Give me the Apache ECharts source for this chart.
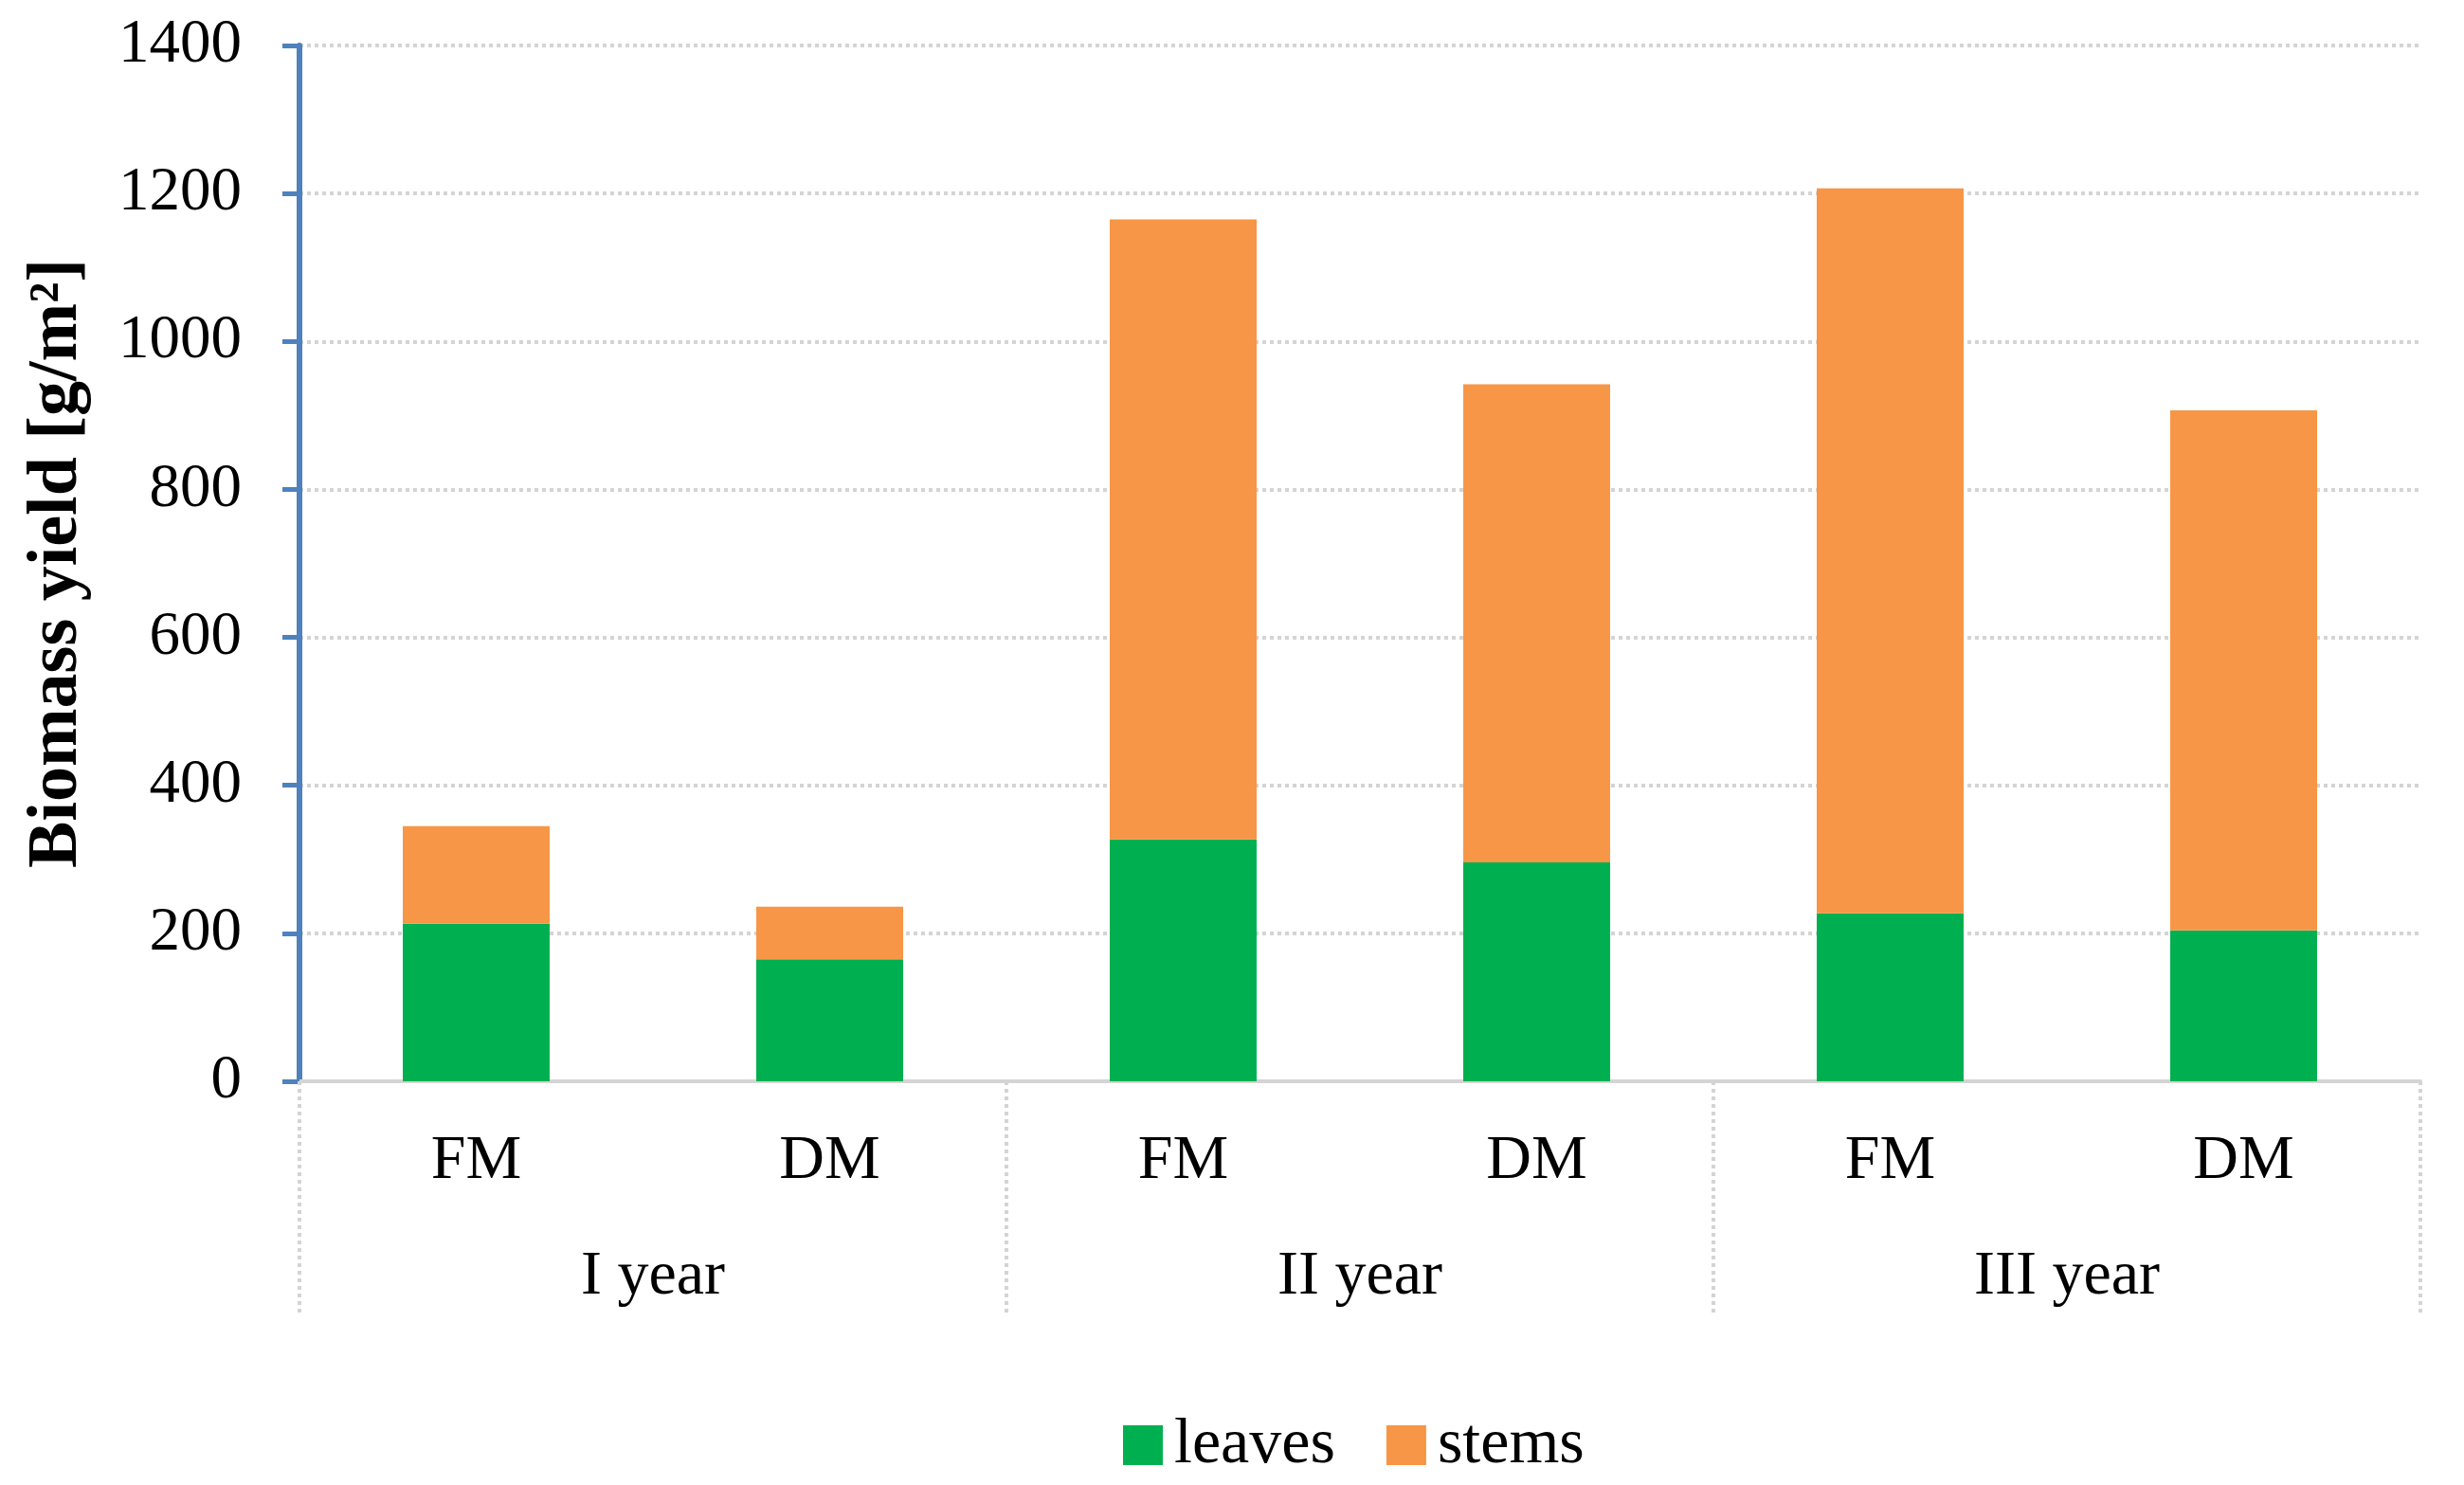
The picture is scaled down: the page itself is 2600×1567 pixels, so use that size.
<!DOCTYPE html>
<html>
<head>
<meta charset="utf-8">
<script src="https://cdn.jsdelivr.net/npm/echarts@6/dist/echarts.min.js"></script>
<style>
html,body{margin:0;padding:0;background:#fff;}
#chart{width:2600px;height:1567px;}
</style>
</head>
<body>
<div id="chart"></div>
<script>
// ---- data ----
var categories = ['FM', 'DM', 'FM', 'DM', 'FM', 'DM'];
var years = ['I year', 'II year', 'III year'];
var leaves = [213, 165, 327, 296, 227, 204];
var stems = [132, 71, 838, 646, 980, 703];
var yTicks = { min: 0, max: 1400, interval: 200 };
var seriesNames = ['leaves', 'stems'];

var FONT = 'Liberation Serif, Times New Roman, serif';
var GRID = '#d4d4d4';

var chart = echarts.init(document.getElementById('chart'), null, { renderer: 'canvas' });
chart.setOption({
  animation: false,
  backgroundColor: '#ffffff',
  textStyle: { fontFamily: FONT, color: '#000' },
  grid: { left: 316, right: 46, top: 48, bottom: 426, containLabel: false },
  legend: {
    data: seriesNames,
    left: 1180,
    top: 1486,
    icon: 'rect',
    itemWidth: 42,
    itemHeight: 42,
    itemGap: 54,
    textStyle: { fontFamily: FONT, fontSize: 68, color: '#000', padding: [0, 0, 0, 7] }
  },
  xAxis: [
    {
      type: 'category',
      data: categories,
      position: 'bottom',
      axisLine: { show: true, lineStyle: { color: GRID, width: 4 } },
      axisTick: { show: false },
      splitLine: { show: false },
      axisLabel: { interval: 0, margin: 85, verticalAlign: 'middle', fontFamily: FONT, fontSize: 66, color: '#000' }
    },
    {
      type: 'category',
      data: years,
      position: 'bottom',
      axisLine: { show: false },
      axisTick: { show: true, interval: 0, length: 248, lineStyle: { color: GRID, width: 4, type: 'dotted' } },
      splitLine: { show: false },
      axisLabel: { interval: 0, margin: 207, verticalAlign: 'middle', fontFamily: FONT, fontSize: 66, color: '#000' }
    }
  ],
  yAxis: {
    type: 'value',
    min: yTicks.min,
    max: yTicks.max,
    interval: yTicks.interval,
    name: 'Biomass yield [g/m\u00B2]',
    nameLocation: 'middle',
    nameGap: 218,
    nameTextStyle: { fontFamily: FONT, fontSize: 74, fontWeight: 'bold', color: '#000' },
    axisLine: { show: true, lineStyle: { color: '#4F81BD', width: 6 } },
    axisTick: { show: true, length: 18, lineStyle: { color: '#4F81BD', width: 5 } },
    axisLabel: {
      margin: 61, fontFamily: FONT, fontSize: 65, color: '#000',
      formatter: function (v) { return String(v); }
    },
    splitLine: { show: true, lineStyle: { color: GRID, width: 4, type: 'dotted' } }
  },
  series: [
    {
      name: seriesNames[0],
      type: 'bar',
      stack: 'total',
      xAxisIndex: 0,
      barWidth: 155,
      itemStyle: { color: '#00B050' },
      data: leaves
    },
    {
      name: seriesNames[1],
      type: 'bar',
      stack: 'total',
      xAxisIndex: 0,
      barWidth: 155,
      itemStyle: { color: '#F79646' },
      data: stems
    }
  ]
});
</script>
</body>
</html>
